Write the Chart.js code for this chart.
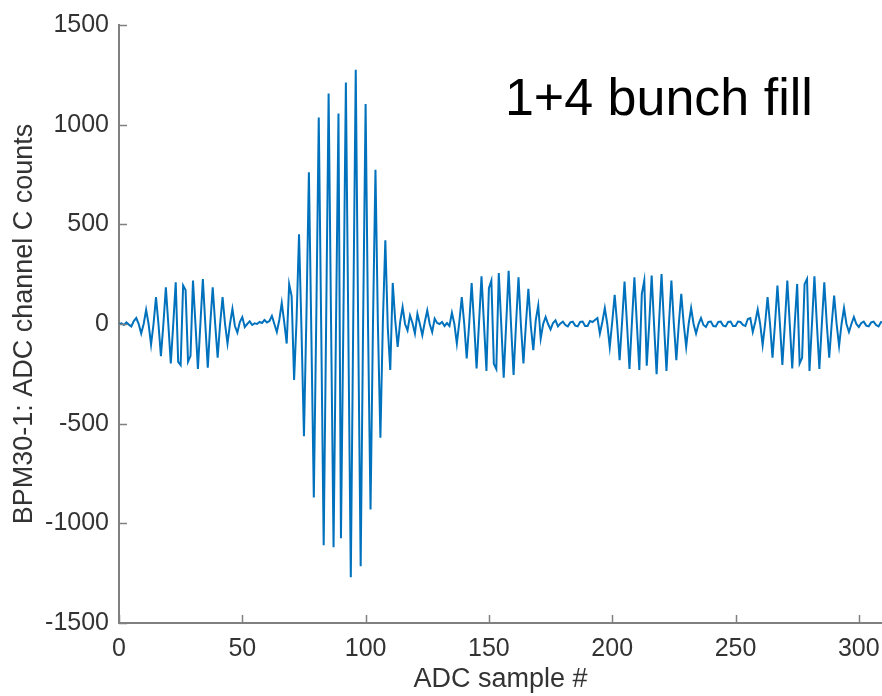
<!DOCTYPE html>
<html>
<head>
<meta charset="utf-8">
<script src="https://cdn.jsdelivr.net/npm/chart.js@4.4.0/dist/chart.umd.min.js"></script>
<style>
  body { margin: 0; background: #fff; }
  canvas { display: block; }
</style>
</head>
<body>
<canvas id="myChart" width="882" height="696"></canvas>
<script>
// ADC samples, split by bunch region (index = sample #)
const countsA = [ // samples 0-59, first small bunch
  0, 3, -5, 8, -3, -12, 15, 30, 0, -48,
  0, 71, 0, -103, 0, 135, 0, -161, 0, 184,
  0, -198, 0, 209, -190, -206, 193, 170, -189, -160,
  218, 0, -226, 0, 226, 0, -219, 0, 184, 0,
  -169, 0, 135, 0, -98, 0, 76, -10, -43, 10,
  35, -15, 0, 13, -5, 3, 0, 10, 5, 20
];
const countsB = [ // samples 60-119, big bunch
  8, 15, 40, 0, -40, 20, 106, 10, -98, 200,
  140, -281, 20, 450, -30, -563, 40, 761, -50, -870,
  30, 1036, -20, -1110, 10, 1156, 0, -1120, 0, 1056,
  -1075, 30, 1211, -40, -1270, 40, 1275, -30, -1215, 20,
  1103, -20, -930, 10, 774, -10, -570, 10, 420, -20,
  -231, 206, 20, -115, 10, 85, 0, -32, 43, 5
];
const countsC = [ // samples 120-179
  -48, 51, 0, -56, 10, 68, 0, -40, 27, 5,
  0, 10, -10, 5, -10, 56, 0, -98, 10, 135,
  0, -173, 0, 206, 0, -223, 10, 239, 0, -236,
  180, 218, -200, -226, 256, 0, -269, 0, 267, -10,
  -256, 0, 234, -10, -198, 0, 176, -10, -131, 20,
  93, -73, 0, 35, 0, -27, 5, 18, -12, 3
];
const countsD = [ // samples 180-239
  12, -5, -12, 8, 12, -8, -12, 10, 12, -10,
  -10, 15, 10, 20, 30, -48, 10, 80, 0, -115,
  10, 146, 0, -181, 10, 213, 0, -226, 10, 234,
  0, -231, 150, 218, -209, 0, 243, -10, -252, 10,
  251, 0, -236, 0, 218, 0, -181, 0, 151, 0,
  -115, 0, 80, 0, -48, 0, 30, -5, -15, 10
];
const countsE = [ // samples 240-310
  12, -10, -12, 10, 12, -8, -12, 10, 12, -10,
  -10, 12, 10, -5, -10, 25, 30, -40, 10, 73,
  0, -106, 0, 135, 0, -169, 0, 193, 0, -206,
  0, 218, 0, -223, 0, 201, -198, -170, 200, 226,
  -236, 0, 239, 0, -226, 0, 209, 0, -169, 0,
  143, 0, -110, 0, 80, 0, -40, 0, 35, 0,
  -15, 5, 12, -8, -12, 8, 12, -5, -12, 10, 8
];

const xTicks = [0, 50, 100, 150, 200, 250, 300];
const yTicks = [-1500, -1000, -500, 0, 500, 1000, 1500];

const counts = [].concat(countsA, countsB, countsC, countsD, countsE);
const points = counts.map((v, i) => ({ x: i, y: v }));

const fontFam = "'Liberation Sans', Arial, sans-serif";
const axisColor = '#808080';
const textColor = '#333333';

// MATLAB style ticks pointing into the plot + the text note
const extras = {
  id: 'extras',
  afterDraw(chart) {
    const { ctx, chartArea, scales: { x, y } } = chart;
    ctx.save();
    ctx.strokeStyle = axisColor;
    ctx.lineWidth = 1.5;
    ctx.beginPath();
    x.ticks.forEach(t => {
      const px = Math.round(x.getPixelForValue(t.value)) + 0.5;
      ctx.moveTo(px, chartArea.bottom);
      ctx.lineTo(px, chartArea.bottom - 8);
    });
    y.ticks.forEach(t => {
      const py = Math.round(y.getPixelForValue(t.value)) + 0.5;
      ctx.moveTo(chartArea.left, py);
      ctx.lineTo(chartArea.left + 8, py);
    });
    ctx.stroke();

    ctx.fillStyle = '#000';
    ctx.font = '52px ' + fontFam;
    ctx.textBaseline = 'alphabetic';
    ctx.fillText('1+4 bunch fill', x.getPixelForValue(156.5), y.getPixelForValue(1048));
    ctx.restore();
  }
};

const ctx = document.getElementById('myChart');

new Chart(ctx, {
  type: 'line',
  data: {
    datasets: [{
      label: 'BPM30-1',
      data: points,
      borderColor: '#0072BD',
      borderWidth: 2,
      pointRadius: 0,
      tension: 0,
      fill: false
    }]
  },
  options: {
    responsive: false,
    animation: false,
    devicePixelRatio: 1,
    layout: { padding: { top: 21, right: 0, bottom: 0, left: 0 } },
    plugins: {
      legend: { display: false },
      tooltip: { enabled: false }
    },
    scales: {
      x: {
        type: 'linear',
        min: 0,
        max: 309.4,
        afterBuildTicks: s => { s.ticks = xTicks.map(v => ({ value: v })); },
        afterFit: s => { s.height = 73; s.paddingRight = 0; s.paddingLeft = 0; },
        grid: { display: false, drawTicks: false },
        border: { display: true, color: axisColor, width: 2 },
        ticks: {
          color: textColor,
          padding: 11,
          maxRotation: 0,
          font: { family: fontFam, size: 25 },
          callback: v => String(v)
        },
        title: {
          display: true,
          text: 'ADC sample #',
          color: textColor,
          font: { family: fontFam, size: 27 },
          padding: { top: 0, bottom: 0 }
        }
      },
      y: {
        min: -1500,
        max: 1500,
        afterBuildTicks: s => { s.ticks = yTicks.map(v => ({ value: v })); },
        afterFit: s => { s.width = 119; },
        grid: { display: false, drawTicks: false },
        border: { display: true, color: axisColor, width: 2 },
        ticks: {
          color: textColor,
          padding: 10,
          font: { family: fontFam, size: 25 },
          callback: v => String(v)
        },
        title: {
          display: true,
          text: 'BPM30-1: ADC channel C counts',
          color: textColor,
          font: { family: fontFam, size: 27 },
          padding: { top: 8, bottom: 0 }
        }
      }
    }
  },
  plugins: [extras]
});
</script>
</body>
</html>
